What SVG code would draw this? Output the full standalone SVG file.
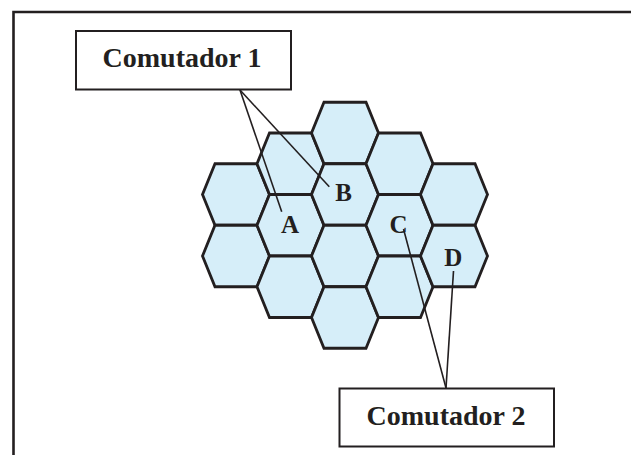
<svg xmlns="http://www.w3.org/2000/svg" width="631" height="455" viewBox="0 0 631 455">
<style>
.frame{fill:none;stroke:#231f20;stroke-width:2.6}
.hex{fill:#d6eef9;stroke:#231f20;stroke-width:2.8;stroke-linejoin:miter}
.box{fill:#ffffff;stroke:#231f20;stroke-width:2}
.lead{fill:none;stroke:#231f20;stroke-width:1.6}
.big{font-family:"Liberation Serif","Times New Roman",serif;font-weight:bold;font-size:28px;fill:#231f20;text-anchor:middle}
.lbl{font-family:"Liberation Serif","Times New Roman",serif;font-weight:bold;font-size:25px;fill:#231f20;text-anchor:middle}
</style>
<defs>
<path id="h" d="M-21,-30.75 L21,-30.75 L33.5,0 L21,30.75 L-21,30.75 L-33.5,0 Z"/>
</defs>
<rect width="631" height="455" fill="#ffffff"/>
<path class="frame" d="M13.5,455 V12 H631"/>
<g id="cells">
<use href="#h" class="hex" x="236" y="194.5"/>
<use href="#h" class="hex" x="236" y="256"/>
<use href="#h" class="hex" x="290.5" y="163.75"/>
<use href="#h" class="hex" x="290.5" y="225.25"/>
<use href="#h" class="hex" x="290.5" y="286.75"/>
<use href="#h" class="hex" x="345" y="133"/>
<use href="#h" class="hex" x="345" y="194.5"/>
<use href="#h" class="hex" x="345" y="256"/>
<use href="#h" class="hex" x="345" y="317.5"/>
<use href="#h" class="hex" x="399.5" y="163.75"/>
<use href="#h" class="hex" x="399.5" y="225.25"/>
<use href="#h" class="hex" x="399.5" y="286.75"/>
<use href="#h" class="hex" x="454" y="194.5"/>
<use href="#h" class="hex" x="454" y="256"/>
</g>
<g id="connectors">
<line class="lead" x1="240" y1="90" x2="281.7" y2="211.7"/>
<line class="lead" x1="240" y1="90" x2="329.3" y2="186.7"/>
<line class="lead" x1="446" y1="388" x2="403.5" y2="229"/>
<line class="lead" x1="446" y1="388" x2="453.5" y2="271"/>
</g>
<g id="comutador1">
<rect class="box" x="76" y="31" width="215" height="58.5"/>
<text class="big" x="182" y="67">Comutador 1</text>
</g>
<g id="comutador2">
<rect class="box" x="339.5" y="388.5" width="214.5" height="58"/>
<text class="big" x="446" y="425">Comutador 2</text>
</g>
<g id="cellA"><text class="lbl" x="290" y="232.5">A</text></g>
<g id="cellB"><text class="lbl" x="343.5" y="201">B</text></g>
<g id="cellC"><text class="lbl" x="398.5" y="233">C</text></g>
<g id="cellD"><text class="lbl" x="453.3" y="265.7">D</text></g>
</svg>
